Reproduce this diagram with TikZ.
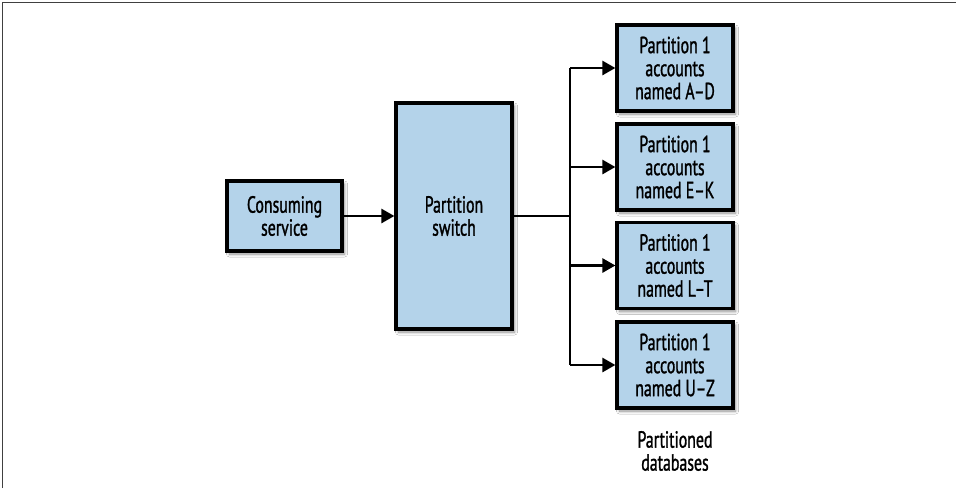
\documentclass[tikz,border=0pt]{standalone}
\usepackage{fontspec}
\setmainfont[FakeStretch=0.68,FakeBold=1.2]{PT Sans}
\usetikzlibrary{shadows.blur,arrows.meta}
\definecolor{boxblue}{RGB}{180,211,234}
\tikzset{
  box/.style={draw=black, line width=3.2pt, fill=boxblue, align=center, inner sep=0pt,
    blur shadow={shadow xshift=2.5pt, shadow yshift=-3pt, shadow blur radius=3pt, shadow opacity=45, shadow blur steps=8},
    font=\fontsize{23.3}{23}\selectfont},
  conn/.style={line width=2.6pt, -{Triangle[length=13pt,width=14pt]}},
  wire/.style={line width=2.6pt},
  lbl/.style={align=center, font=\fontsize{23.3}{23}\selectfont}
}
\begin{document}
\begin{tikzpicture}[x=1pt,y=-1pt]
\useasboundingbox (0,0) rectangle (956,488);
\fill[white] (0,0) rectangle (956,488);
\draw[line width=1.6pt, black!75] (2.5,488) -- (2.5,2.5) -- (956,2.5);
\node[box, minimum width=115pt, minimum height=70pt] (cons) at (284.5,216) {Consuming\\service};
\node[box, minimum width=116pt, minimum height=226pt] (sw) at (454,216) {Partition\\switch};
\node[box, minimum width=116pt, minimum height=86pt] (p1) at (675,68) {Partition 1\\accounts\\named A--D};
\node[box, minimum width=116pt, minimum height=86pt] (p2) at (675,167) {Partition 1\\accounts\\named E--K};
\node[box, minimum width=116pt, minimum height=86pt] (p3) at (675,265.5) {Partition 1\\accounts\\named L--T};
\node[box, minimum width=116pt, minimum height=86pt] (p4) at (675,365) {Partition 1\\accounts\\named U--Z};
\node[lbl] (pd) at (675,451) {Partitioned\\databases};
\coordinate (bus) at (570,216);
\draw[conn] (cons.east) -- (sw.west |- cons.east);
\draw[wire] (sw.east |- bus) -- (bus);
\draw[wire] (bus |- p1.west) -- (bus |- p4.west);
\draw[conn] (bus |- p1.west) -- (p1.west);
\draw[conn] (bus |- p2.west) -- (p2.west);
\draw[conn] (bus |- p3.west) -- (p3.west);
\draw[conn] (bus |- p4.west) -- (p4.west);
\end{tikzpicture}
\end{document}
